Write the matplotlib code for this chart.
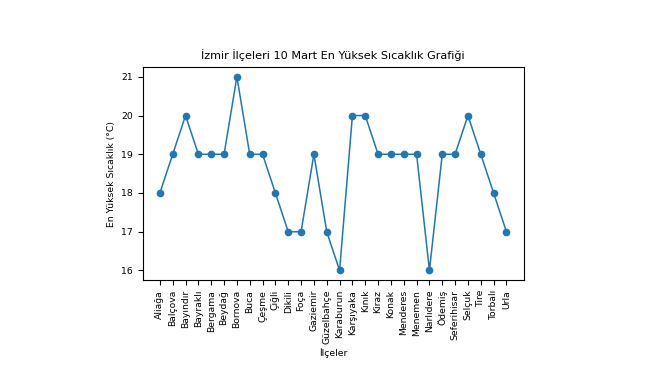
import matplotlib
matplotlib.use("Agg")
import matplotlib.pyplot as plt

# ilceler ve sicakliklar
ilceler = ["Aliağa", "Balçova", "Bayındır", "Bayraklı", "Bergama", "Beydağ",
           "Bornova", "Buca", "Çeşme", "Çiğli", "Dikili", "Foça", "Gaziemir",
           "Güzelbahçe", "Karaburun", "Karşıyaka", "Kınık", "Kiraz", "Konak",
           "Menderes", "Menemen", "Narlıdere", "Ödemiş", "Seferihisar",
           "Selçuk", "Tire", "Torbalı", "Urla"]
sicaklik = [18, 19, 20, 19, 19, 19, 21, 19, 19, 18, 17, 17, 19, 17, 16,
            20, 20, 19, 19, 19, 19, 16, 19, 19, 20, 19, 18, 17]

plt.rcParams['font.size'] = 6.7

fig = plt.figure(figsize=(6.63, 3.75), dpi=100)
ax = fig.add_axes([0.215, 0.253, 0.575, 0.568])

ax.plot(ilceler, sicaklik, marker='o', markersize=4.5, linewidth=1.1)

ax.set_title('İzmir İlçeleri 10 Mart En Yüksek Sıcaklık Grafiği', fontsize=8.1)
ax.set_xlabel('İlçeler', labelpad=3)
ax.set_ylabel('En Yüksek Sıcaklık (°C)')
ax.tick_params(axis='x', rotation=90)

fig.savefig('out.png', dpi=100)
